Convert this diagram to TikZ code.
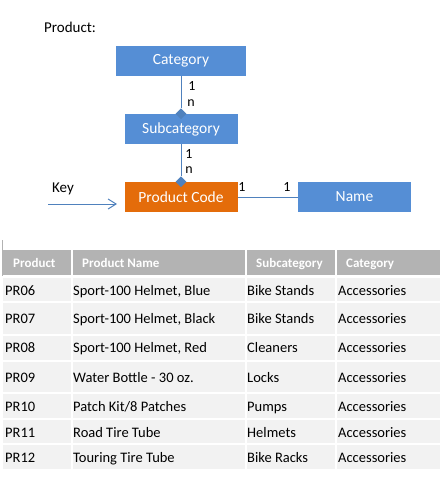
\documentclass[tikz,border=0pt]{standalone}
\usepackage{fontspec}
\setmainfont{Carlito}
\usetikzlibrary{shapes,arrows,arrows.meta}
\usetikzlibrary{positioning}
\definecolor{boxblue}{HTML}{558ED5}
\definecolor{boxorange}{HTML}{E46C0A}
\definecolor{linkblue}{HTML}{4F81BD}
\definecolor{headgray}{HTML}{B3B3B3}
\definecolor{rowgray}{HTML}{F2F2F2}
\tikzstyle{entity} = [rectangle, fill=boxblue, text=white, minimum width=113pt,
minimum height=30pt, inner sep=0pt, font=\fontsize{15.5}{18}\selectfont]
\tikzstyle{line} = [draw, color=linkblue, line width=1pt]
\tikzstyle{dia} = [diamond, fill=linkblue, inner sep=0pt, minimum width=11pt,
minimum height=11pt]
\tikzstyle{card} = [inner sep=0pt, font=\fontsize{14}{16}\selectfont]

\begin{document}
\begin{tikzpicture}[x=1pt, y=-1pt,
	head/.style={anchor=west, inner sep=0pt, text=white, text height=9pt,
		text depth=0pt, font=\fontsize{13}{15}\selectfont\bfseries},
	cell/.style={anchor=west, inner sep=0pt, text height=9pt, text depth=0pt,
		font=\fontsize{14.5}{17}\selectfont}]
	\useasboundingbox (0,0) rectangle (440,479);
	\node [anchor=west, inner sep=0pt, font=\fontsize{15}{18}\selectfont] (Title) at (44,27) {Product:};
	\node [entity, minimum width=130pt] (Cat) at (181,61) {Category};
	\node [entity] (Sub) at (181,129) {Subcategory};
	\node [entity, fill=boxorange] (Code) at (181,197) {Product Code};
	\node [entity] (Name) at (354.5,197) {Name};
	\node [dia] (D1) at (Sub.north) {};
	\node [dia] (D2) at (Code.north) {};
	%% Flows
	\path [line] (Cat) -- (D1);
	\path [line] (Sub) -- (D2);
	\path [line] (Code) -- (Name);
	\node [card] (C1) at (192,86) {1};
	\node [card] (N1) at (191,103) {n};
	\node [card] (C2) at (189,154) {1};
	\node [card] (N2) at (189,170) {n};
	\node [card] (C3) at (242,187) {1};
	\node [card] (C4) at (287,187) {1};
	\node [card, font=\fontsize{15}{18}\selectfont] (Key) at (63,189) {Key};
	\coordinate (KeyStart) at (48,204);
	\coordinate (KeyEnd) at (117,204);
	\path [line, -{Straight Barb[length=8pt,width=10pt]}] (KeyStart) -- (KeyEnd);
	%% Table
	\draw [gray!60, line width=0.8pt] (2,240) -- (2,276);
	\foreach \xa/\xb in {3/71, 73/245, 247/335, 337/440} {
		\fill [headgray] (\xa,250) rectangle (\xb,275);
		\foreach \ya/\yb in {278/301, 303/334, 336/360, 362/392, 394/418, 420/443, 445/469}
			\fill [rowgray] (\xa,\ya) rectangle (\xb,\yb);
	}
	\node [head] (hCode) at (13,263) {Product};
	\node [head] (hName) at (82,263) {Product Name};
	\node [head] (hSub) at (256,263) {Subcategory};
	\node [head] (hCat) at (346,263) {Category};
	\foreach \yc/\code/\pname/\sub [count=\i] in {
		291/PR06/{Sport-100 Helmet, Blue}/Bike Stands,
		319/PR07/{Sport-100 Helmet, Black}/Bike Stands,
		348/PR08/{Sport-100 Helmet, Red}/Cleaners,
		378/PR09/Water Bottle - 30 oz./Locks,
		407/PR10/{Patch Kit/8 Patches}/Pumps,
		433/PR11/Road Tire Tube/Helmets,
		458/PR12/Touring Tire Tube/Bike Racks} {
		\node [cell] (code\i) at (5,\yc) {\code};
		\node [cell] (name\i) at (73,\yc) {\pname};
		\node [cell] (sub\i) at (247,\yc) {\sub};
		\node [cell] (cat\i) at (338,\yc) {Accessories};
	}
\end{tikzpicture}
\end{document}
